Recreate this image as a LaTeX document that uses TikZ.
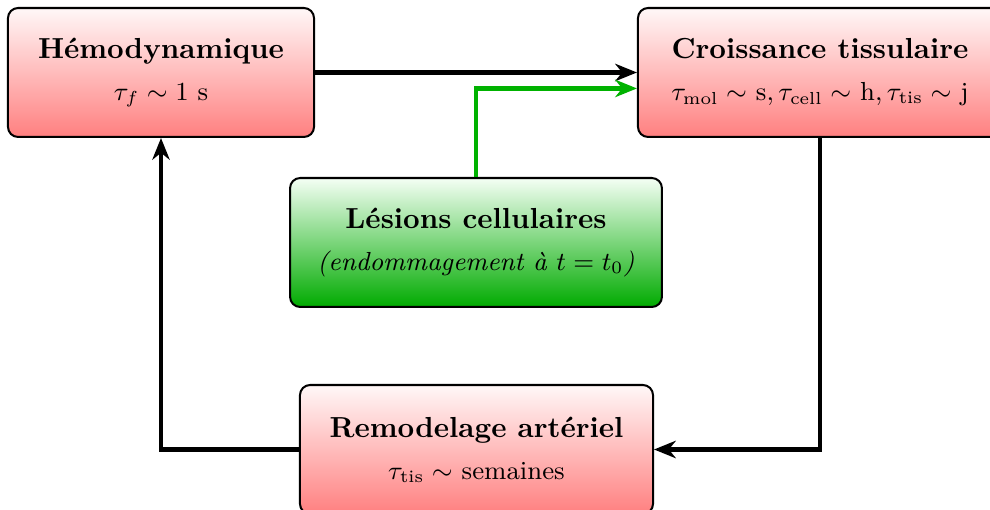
\documentclass[tikz,border=0pt]{standalone}
\usepackage{amsmath}
\usetikzlibrary{arrows.meta}
\begin{document}
\begin{tikzpicture}[x=0.345pt,y=-0.345pt,
  box/.style={draw=black, line width=0.7pt, rounded corners=3.5pt, align=center,
    minimum height=44.5pt, inner sep=0pt},
  redbox/.style={box, top color=red!3, bottom color=red!50},
  greenbox/.style={box, top color=green!4!white, bottom color=green!67!black},
  link/.style={line width=1.65pt, -{Stealth[length=7.5pt,width=6pt,inset=2.4pt]}},
  blacklink/.style={link, draw=black},
  greenlink/.style={link, draw=green!70!black}]
\useasboundingbox (0,0) rectangle (990,510);
\node[redbox, minimum width=105.6pt] (hemo) at (161,72.5)
  {\textbf{Hémodynamique}\\[2.5pt]{\small $\tau_f\sim 1$ s}};
\node[redbox, minimum width=125.6pt] (croiss) at (820,72.5)
  {\textbf{Croissance tissulaire}\\[2.5pt]{\small $\tau_{\text{mol}}\sim$\ s$,\tau_{\text{cell}}\sim$\ h$,\tau_{\text{tis}}\sim$\ j}};
\node[greenbox, minimum width=128.3pt] (les) at (476,242.5)
  {\textbf{Lésions cellulaires}\\[2.5pt]{\small\textit{(endommagement à $t=t_0$)}}};
\node[redbox, minimum width=121.8pt] (remod) at (476.5,449.5)
  {\textbf{Remodelage artériel}\\[2.5pt]{\small $\tau_{\text{tis}}\sim$ semaines}};
\draw[blacklink] (hemo.east) -- (croiss.west);
\draw[greenlink] (les.north) |- ([yshift=-5.5pt]croiss.west);
\draw[blacklink] (croiss.south) |- (remod.east);
\draw[blacklink] (remod.west) -| (hemo.south);
\end{tikzpicture}
\end{document}
